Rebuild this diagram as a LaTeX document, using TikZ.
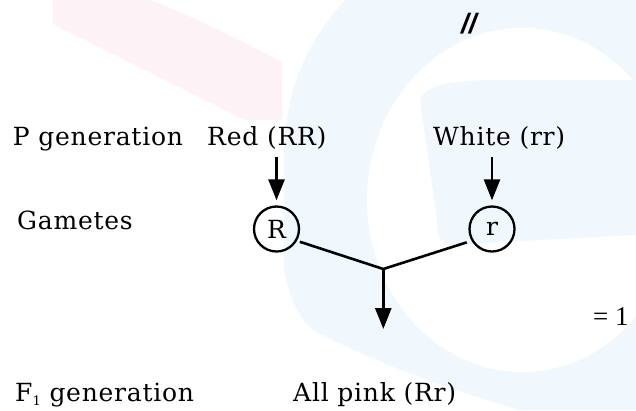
\documentclass[tikz,border=0pt]{standalone}
\usepackage{fontspec}
\setmainfont{DejaVu Serif}[LetterSpace=3]
\newfontfamily\numfont{Liberation Serif}
\newfontfamily\slashfont{Liberation Sans}
\usetikzlibrary{arrows.meta}
\definecolor{wmblue}{RGB}{241,248,253}
\definecolor{wmpink}{RGB}{253,242,245}
\begin{document}
\begin{tikzpicture}[x=1pt,y=-1pt,
  lbl/.style={anchor=base west, inner sep=0pt, font=\fontsize{25}{30}\selectfont},
  gam/.style={circle, draw, line width=2.3pt, minimum size=45pt, inner sep=0pt, font=\fontsize{25}{30}\selectfont},
  arr/.style={line width=2.6pt, -{Triangle[width=16pt,length=21pt]}},
  ln/.style={line width=2.6pt}]
\useasboundingbox (0,0) rectangle (636,410);
% faint watermark background
\begin{scope}
\clip (0,0) rectangle (636,410);
\fill[wmpink] (53,0) -- (150,0) .. controls (190,15) and (240,40) .. (282,62) -- (282,120) -- (245,120) -- (53,24) -- cycle;
\fill[wmblue] (345,0) .. controls (300,50) and (284,100) .. (284,160) -- (284,270) .. controls (290,300) and (300,320) .. (313,330) .. controls (380,365) and (450,390) .. (520,410) -- (636,410) -- (636,0) -- cycle;
\fill[white] (522,200) ellipse [x radius=155, y radius=172];
\fill[wmblue] (420,100) .. controls (425,85) and (450,80) .. (500,80) -- (636,80) -- (636,235) -- (445,245) .. controls (440,240) and (437,235) .. (437,220) -- cycle;
\end{scope}
% labels
\node[lbl] (pgen) at (12.7,145) {P generation};
\node[lbl] (red) at (207,145) {Red (RR)};
\node[lbl] (white) at (433,145) {White (rr)};
\node[lbl] (gam) at (17,229) {Gametes};
\node[lbl] (fgen) at (15,401.7) {F\raisebox{-4pt}{\fontsize{13}{13}\selectfont 1} generation};
\node[lbl] (pink) at (293,401.7) {All pink (Rr)};
\node[anchor=base west, inner sep=0pt, font=\numfont\fontsize{27}{30}\selectfont] (eq) at (593,325) {= 1};
\node[anchor=base west, inner sep=0pt, font=\slashfont\bfseries\itshape\fontsize{28}{30}\selectfont] (sl) at (461,33) {//};
% gametes
\node[gam] (R) at (276.5,229) {R};
\node[gam] (r) at (492,229) {r};
\coordinate (J) at (383.3,269);
\coordinate (tip) at (383.3,329);
% connectors
\draw[arr, shorten <=8pt, shorten >=5pt] (red.south -| R.center) -- (R);
\draw[arr, shorten <=8pt, shorten >=5pt] (white.south -| r.center) -- (r);
\draw[ln, shorten <=3pt, shorten >=5pt] (R.-30) -- (J) -- (r.-150);
\draw[arr] (J) -- (tip);
\end{tikzpicture}
\end{document}
